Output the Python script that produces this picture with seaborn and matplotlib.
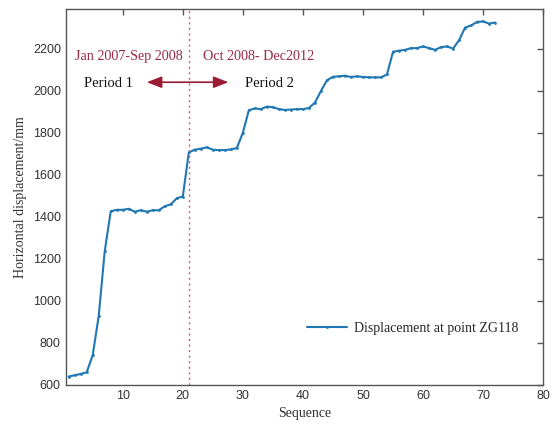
import numpy as np
import pandas as pd
import matplotlib
matplotlib.use("Agg")
import matplotlib.pyplot as plt
import seaborn as sns

sequence = list(range(1, 73))
displacement = [640, 646, 652, 660, 742, 928, 1236, 1426, 1433, 1433,
                1438, 1424, 1431, 1424, 1431, 1431, 1450, 1459, 1488, 1496,
                1706, 1719, 1724, 1730, 1719, 1717, 1717, 1720, 1727, 1800,
                1907, 1915, 1912, 1924, 1921, 1912, 1908, 1910, 1912, 1912,
                1917, 1943, 1998, 2049, 2066, 2068, 2071, 2065, 2068, 2065,
                2063, 2063, 2063, 2077, 2185, 2190, 2194, 2202, 2202, 2210,
                2202, 2194, 2207, 2210, 2200, 2240, 2300, 2310, 2327, 2329,
                2319, 2324]
series_label = "Displacement at point ZG118"
x_ticks = [10, 20, 30, 40, 50, 60, 70, 80]
y_ticks = [600, 800, 1000, 1200, 1400, 1600, 1800, 2000, 2200]
split_x = 21
period_texts = ["Jan 2007-Sep 2008", "Oct 2008- Dec2012"]
period_names = ["Period 1", "Period 2"]

df = pd.DataFrame({"Sequence": sequence, "Displacement": displacement})

sns.set_style("white")
serif = ["Liberation Serif", "DejaVu Serif"]
sans = ["Liberation Sans", "DejaVu Sans"]

fig = plt.figure(figsize=(5.52, 4.32), dpi=100)
ax = fig.add_axes([0.119, 0.109, 0.865, 0.871])

sns.lineplot(data=df, x="Sequence", y="Displacement", ax=ax, color="#1f77b4",
             linewidth=1.5, marker="o", markersize=2.0, markeredgewidth=0,
             label=series_label)

ax.axvline(split_x, color="#c0607a", linestyle=(0, (1.5, 2.5)), linewidth=1.0)

ax.set_xlim(0.5, 80)
ax.set_ylim(600, 2390)
ax.set_xticks(x_ticks)
ax.set_yticks(y_ticks)

gray = "#555555"
for s in ax.spines.values():
    s.set_color(gray)
    s.set_linewidth(1.0)
    s.set_visible(True)
ax.tick_params(direction="in", length=4, width=1, colors=gray, labelcolor="#333333",
               top=True, right=True, labelsize=9)
for lab in ax.get_xticklabels() + ax.get_yticklabels():
    lab.set_family(sans)

ax.set_xlabel("Sequence", family=serif, fontsize=10, color="#333333", labelpad=4)
ax.set_ylabel("Horizontal displacement/mm", family=serif, fontsize=10, color="#333333", labelpad=4)

red = "#9b2a45"
ax.text(11.1, 2160, period_texts[0], family=serif, fontsize=10.2, color=red,
        ha="center", va="center")
ax.text(32.6, 2160, period_texts[1], family=serif, fontsize=10.2, color=red,
        ha="center", va="center")
ax.text(7.7, 2036, period_names[0], family=serif, fontsize=10.5, color="#111111",
        ha="center", va="center")
ax.text(34.5, 2036, period_names[1], family=serif, fontsize=10.5, color="#111111",
        ha="center", va="center")
ax.annotate("", xy=(14.0, 2040), xytext=(27.6, 2040),
            arrowprops=dict(arrowstyle="<|-|>,head_length=0.9,head_width=0.35",
                            color="#9b1b35", lw=1.2, shrinkA=0, shrinkB=0))

leg = ax.legend(loc="lower right", bbox_to_anchor=(0.975, 0.10), frameon=False,
                prop={"family": serif, "size": 10}, handlelength=2.9, handletextpad=0.5)

fig.savefig("out.png", dpi=100)
